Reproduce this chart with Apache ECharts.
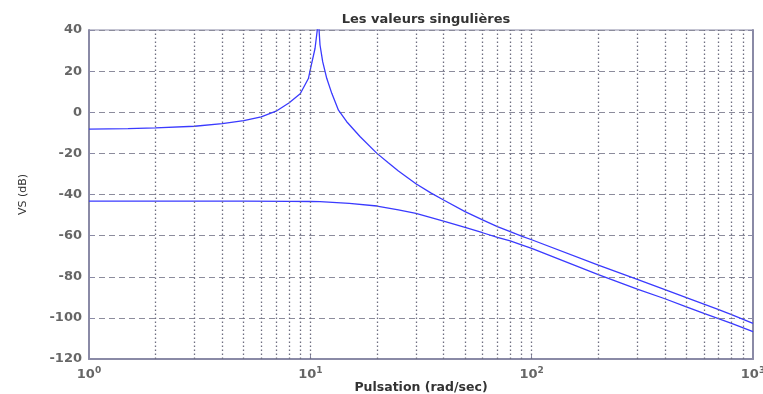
<!DOCTYPE html>
<html>
<head>
<meta charset="utf-8">
<script src="https://cdn.jsdelivr.net/npm/echarts@6/dist/echarts.min.js"></script>
<style>html,body{margin:0;padding:0;background:#fff;width:100%;height:100%;overflow:hidden}#chart{width:763px;height:394px}</style>
</head>
<body>
<div id="chart"></div>
<script>
// Chart data
var titleText = 'Les valeurs singulières';
var xName = 'Pulsation (rad/sec)';
var yName = 'VS (dB)';
var yTicks = [40, 20, 0, -20, -40, -60, -80, -100, -120];
var xMajorTicks = [1, 10, 100, 1000];
var xGridLines = [2, 3, 4, 5, 6, 7, 8, 9, 10, 20, 30, 40, 50, 60, 70, 80, 90, 100, 200, 300, 400, 500, 600, 700, 800, 900];

var upperFreq = [1, 1.5, 2, 3, 4, 5, 6, 7, 8, 9, 9.8, 10.1, 10.5, 10.75, 10.85, 10.95, 11.06, 11.37, 11.86, 12.5, 13.4, 14.6, 16.8, 20, 22.5, 25, 30, 35, 40, 50, 60, 70, 80, 90, 100, 200, 300, 400, 500, 600, 700, 800, 1000];
var upperDb = [-8.2, -8.0, -7.6, -6.8, -5.5, -4.1, -2.2, 0.5, 4.5, 9.0, 16.4, 22.9, 31, 40, 47, 40, 32.7, 24.6, 16.5, 9.2, 1.0, -4.6, -11.9, -20, -24.6, -28.6, -34.8, -39.2, -42.7, -48.3, -52.3, -55.6, -58.1, -60.2, -62, -74.3, -81.3, -86.3, -90.2, -93.3, -96, -98.4, -102.7];

var lowerFreq = [1, 2, 5, 8, 10, 11.06, 15, 20, 25, 30, 40, 50, 60, 70, 80, 90, 100, 200, 300, 400, 500, 600, 800, 1000];
var lowerDb = [-43.2, -43.2, -43.2, -43.3, -43.4, -43.5, -44.3, -45.6, -47.5, -49.2, -52.9, -56, -58.6, -60.9, -62.6, -64.5, -66.2, -79, -86, -90.7, -94.6, -97.8, -102.7, -106.7];

function pairs(xs, ys) { return xs.map(function (x, i) { return [x, ys[i]]; }); }

var axisColor = '#8a8aa6';
var gridColor = '#8c8c9c';
var labelFont = 'DejaVu Sans';

var chart = echarts.init(document.getElementById('chart'));
chart.setOption({
  animation: false,
  backgroundColor: '#ffffff',
  title: {
    text: titleText, left: 421, top: 8, textAlign: 'center',
    textStyle: { fontFamily: labelFont, fontSize: 13, fontWeight: 'bold', color: '#333' }
  },
  grid: { left: 89, right: 10, top: 30, bottom: 35, show: true, borderColor: axisColor, borderWidth: 1, containLabel: false, outerBoundsMode: 'none' },
  xAxis: {
    type: 'log', logBase: 10, min: 1, max: 1000,
    name: xName, nameLocation: 'middle', nameGap: 22, nameMoveOverlap: false,
    nameTextStyle: { fontFamily: labelFont, fontSize: 12.5, fontWeight: 'bold', color: '#333' },
    axisLine: { onZero: false, lineStyle: { color: axisColor, width: 2 } },
    axisTick: { show: true, inside: true, length: 5, lineStyle: { color: axisColor } },
    splitLine: { show: false },
    axisLabel: {
      margin: 7,
      formatter: function (v) {
        var e = Math.round(Math.log(v) / Math.LN10);
        return '{b|10}{s|' + e + '}';
      },
      rich: {
        b: { fontFamily: labelFont, fontSize: 13, fontWeight: 'bold', color: '#666' },
        s: { fontFamily: labelFont, fontSize: 9, fontWeight: 'bold', color: '#666', padding: [0, 0, 9, 0] }
      }
    }
  },
  yAxis: [{
    type: 'value', min: -120, max: 40, interval: 20,
    name: yName, nameLocation: 'middle', nameGap: 60, nameRotate: 90, nameMoveOverlap: false,
    nameTextStyle: { fontFamily: labelFont, fontSize: 11, color: '#333' },
    axisLine: { show: true, onZero: false, lineStyle: { color: axisColor, width: 2 } },
    axisTick: { show: true, inside: true, length: 5, lineStyle: { color: axisColor } },
    axisLabel: { margin: 7, fontFamily: labelFont, fontSize: 13, fontWeight: 'bold', color: '#666' },
    splitLine: { show: true, lineStyle: { color: gridColor, type: [6, 4], width: 1 } }
  }, {
    type: 'value', min: -120, max: 40, interval: 20, position: 'right',
    axisLine: { show: true, onZero: false, lineStyle: { color: axisColor, width: 2 } },
    axisTick: { show: true, inside: true, length: 5, lineStyle: { color: axisColor } },
    axisLabel: { show: false },
    splitLine: { show: false }
  }],
  series: [{
    type: 'line', name: 'sv1', data: pairs(upperFreq, upperDb), symbol: 'none', clip: true,
    lineStyle: { color: '#3a3aff', width: 1.3 },
    markLine: {
      silent: true, symbol: 'none', label: { show: false },
      lineStyle: { color: '#6e6e80', type: [1.5, 2.5], width: 1.3 },
      data: xGridLines.map(function (v) { return { xAxis: v }; })
    }
  }, {
    type: 'line', name: 'sv2', data: pairs(lowerFreq, lowerDb), symbol: 'none', clip: true,
    lineStyle: { color: '#3a3aff', width: 1.3 }
  }]
});
</script>
</body>
</html>
